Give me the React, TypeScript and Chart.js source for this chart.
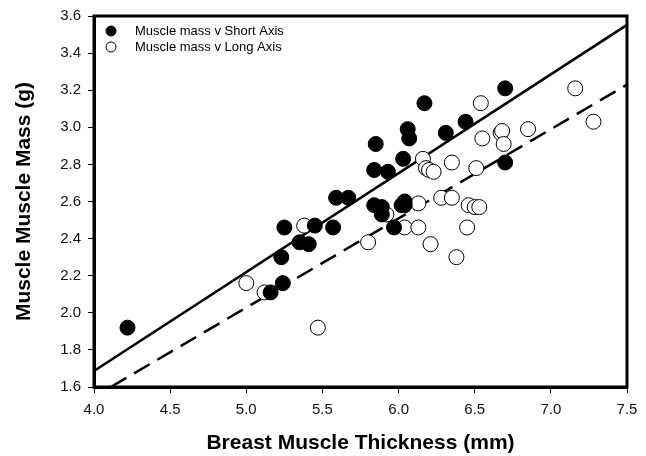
import React, { useEffect, useRef } from "react";
import { Chart, registerables } from "chart.js";

Chart.register(...registerables);

const shortAxisLabel = "Muscle mass v Short Axis";
const longAxisLabel = "Muscle mass v Long Axis";

const shortX = [4.22, 5.16, 5.24, 5.23, 5.25, 5.35, 5.41, 5.45, 5.57, 5.59, 5.67, 5.85, 5.84, 5.93, 6.03, 6.06, 6.07, 6.17, 5.84, 5.89, 5.89, 6.02, 6.04, 5.97, 6.70, 6.44, 6.31, 6.04, 6.70];
const shortY = [1.92, 2.11, 2.16, 2.30, 2.46, 2.38, 2.37, 2.47, 2.46, 2.62, 2.62, 2.91, 2.77, 2.76, 2.83, 2.99, 2.94, 3.13, 2.58, 2.57, 2.53, 2.58, 2.60, 2.46, 3.21, 3.03, 2.97, 2.58, 2.81];

const longX = [5.00, 5.12, 5.38, 5.47, 5.80, 5.92, 6.04, 6.13, 6.13, 6.16, 6.18, 6.20, 6.23, 6.21, 6.28, 6.35, 6.35, 6.38, 6.45, 6.46, 6.50, 6.53, 6.51, 6.54, 6.55, 6.67, 6.68, 6.69, 6.85, 7.16, 7.28];
const longY = [2.16, 2.11, 2.47, 1.92, 2.38, 2.53, 2.46, 2.46, 2.59, 2.83, 2.78, 2.77, 2.76, 2.37, 2.62, 2.62, 2.81, 2.30, 2.46, 2.58, 2.57, 2.57, 2.78, 3.13, 2.94, 2.97, 2.98, 2.91, 2.99, 3.21, 3.03];

const shortFitX = [4.0, 7.5];
const shortFitY = [1.686, 3.552];
const longFitX = [4.11, 7.5];
const longFitY = [1.6, 3.23];

const xTicks = [4.0, 4.5, 5.0, 5.5, 6.0, 6.5, 7.0, 7.5];
const yTicks = [1.6, 1.8, 2.0, 2.2, 2.4, 2.6, 2.8, 3.0, 3.2, 3.4, 3.6];

const xTitle = "Breast Muscle Thickness (mm)";
const yTitle = "Muscle Muscle Mass (g)";

const FONT = "'Liberation Sans', Arial, Helvetica, sans-serif";

const pts = (xs: number[], ys: number[]) => xs.map((x, i) => ({ x, y: ys[i] }));

const frameAndLegend = {
  id: "frameAndLegend",
  afterDatasetsDraw(chart: any) {
    const { ctx, chartArea } = chart;
    const { left, top, right, bottom } = chartArea;
    ctx.save();
    ctx.strokeStyle = "#000";
    ctx.lineWidth = 3;
    ctx.strokeRect(left, top, right - left, bottom - top);
    const items = chart.data.datasets.filter((d: any) => d.showInLegend);
    items.forEach((d: any, i: number) => {
      const cy = top + 15 + i * 16;
      const cx = left + 17;
      ctx.beginPath();
      ctx.arc(cx, cy, 5, 0, Math.PI * 2);
      ctx.fillStyle = d.backgroundColor;
      ctx.fill();
      ctx.lineWidth = 1;
      ctx.strokeStyle = "#000";
      ctx.stroke();
      ctx.fillStyle = "#000";
      ctx.font = `13px ${FONT}`;
      ctx.textBaseline = "middle";
      ctx.textAlign = "left";
      ctx.fillText(d.label, left + 41, cy);
    });
    ctx.restore();
  },
};

export default function App() {
  const ref = useRef<HTMLCanvasElement>(null);
  useEffect(() => {
    document.body.style.margin = "0";
    const canvas = ref.current!;
    const chart = new Chart(canvas, {
      type: "scatter",
      data: {
        datasets: [
          {
            label: shortAxisLabel,
            showInLegend: true,
            data: pts(shortX, shortY),
            backgroundColor: "#000",
            borderColor: "#000",
            borderWidth: 1,
            pointRadius: 7.5,
          } as any,
          {
            label: longAxisLabel,
            showInLegend: true,
            data: pts(longX, longY),
            backgroundColor: "#fff",
            borderColor: "#000",
            borderWidth: 1,
            pointRadius: 7.5,
          } as any,
          {
            label: "fitShort",
            data: pts(shortFitX, shortFitY),
            showLine: true,
            borderColor: "#000",
            borderWidth: 2.5,
            pointRadius: 0,
            fill: false,
          } as any,
          {
            label: "fitLong",
            data: pts(longFitX, longFitY),
            showLine: true,
            borderColor: "#000",
            borderWidth: 2.5,
            borderDash: [18, 9],
            pointRadius: 0,
            fill: false,
          } as any,
        ],
      },
      options: {
        animation: false,
        responsive: false,
        maintainAspectRatio: false,
        layout: { padding: { top: 15, right: 19, left: 0, bottom: 0 } },
        plugins: { legend: { display: false }, tooltip: { enabled: false } },
        scales: {
          x: {
            type: "linear",
            min: 4.0,
            max: 7.5,
            afterBuildTicks: (s: any) => {
              s.ticks = xTicks.map((v) => ({ value: v }));
            },
            afterFit: (s: any) => {
              s.height = 69;
            },
            grid: { drawOnChartArea: false, tickLength: 6, color: "#000", lineWidth: 1 },
            border: { display: true, color: "#000", width: 3 },
            ticks: {
              color: "#111",
              font: { family: FONT, size: 15 },
              padding: 8,
              callback: (v: any) => Number(v).toFixed(1),
              maxRotation: 0,
            },
            title: {
              display: true,
              text: xTitle,
              color: "#000",
              font: { family: FONT, size: 21, weight: "bold" },
              padding: { top: 10, bottom: 0 },
            },
          },
          y: {
            type: "linear",
            min: 1.6,
            max: 3.6,
            afterBuildTicks: (s: any) => {
              s.ticks = yTicks.map((v) => ({ value: v }));
            },
            afterFit: (s: any) => {
              s.width = 94;
            },
            grid: { drawOnChartArea: false, tickLength: 6, color: "#000", lineWidth: 1 },
            border: { display: true, color: "#000", width: 3 },
            ticks: {
              color: "#111",
              font: { family: FONT, size: 15 },
              padding: 7,
              callback: (v: any) => Number(v).toFixed(1),
            },
            title: {
              display: true,
              text: yTitle,
              color: "#000",
              font: { family: FONT, size: 21, weight: "bold" },
              padding: { top: 12, bottom: 8 },
            },
          },
        },
      },
      plugins: [frameAndLegend],
    } as any);
    return () => chart.destroy();
  }, []);
  return <canvas ref={ref} width={646} height={456} style={{ display: "block" }} />;
}
